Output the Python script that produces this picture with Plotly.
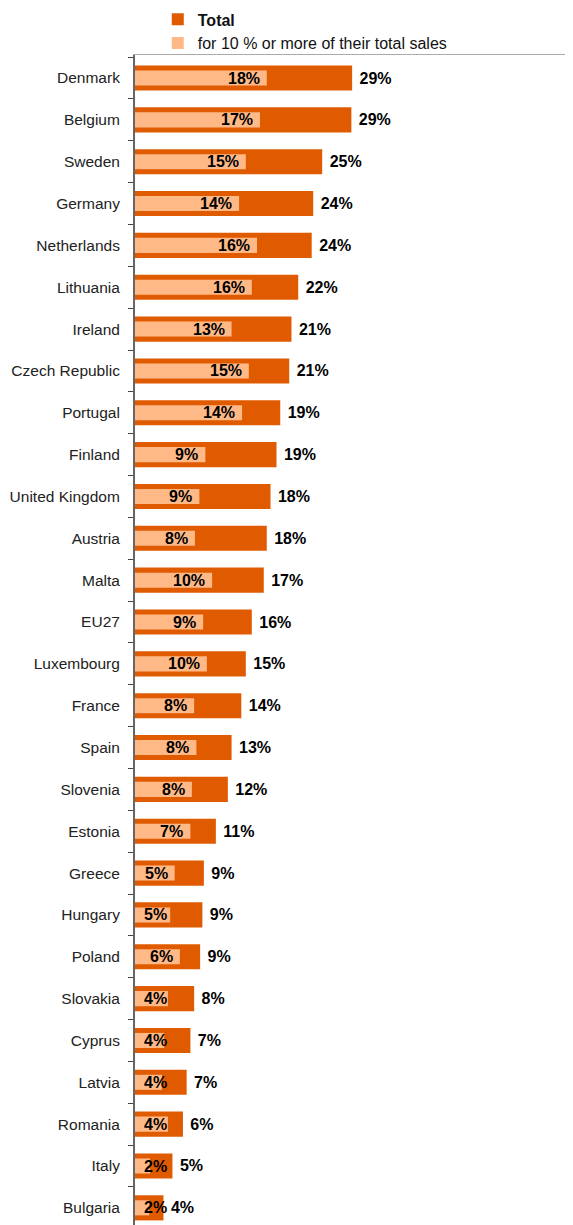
import plotly.graph_objects as go

categories = ["Denmark", "Belgium", "Sweden", "Germany", "Netherlands", "Lithuania", "Ireland",
              "Czech Republic", "Portugal", "Finland", "United Kingdom", "Austria", "Malta", "EU27",
              "Luxembourg", "France", "Spain", "Slovenia", "Estonia", "Greece", "Hungary", "Poland",
              "Slovakia", "Cyprus", "Latvia", "Romania", "Italy", "Bulgaria"]
total = [29.0, 28.9, 25.0, 23.8, 23.6, 21.8, 20.9, 20.6, 19.4, 18.9, 18.1, 17.6, 17.2, 15.6,
         14.8, 14.2, 12.9, 12.4, 10.8, 9.2, 9.0, 8.7, 7.9, 7.4, 6.9, 6.4, 5.0, 3.8]
ten_pct = [17.6, 16.7, 14.8, 13.9, 16.3, 15.6, 12.9, 15.2, 14.3, 9.4, 8.6, 8.0, 10.3, 9.1,
           9.6, 7.9, 8.2, 7.6, 7.4, 5.3, 4.7, 6.0, 4.4, 3.9, 3.6, 4.4, 2.0, 1.9]

DARK = "#E05A00"
LIGHT = "#FFB987"
FONT = "Liberation Sans, Arial, sans-serif"
FIT_MIN = 4.8  # below this share the label no longer fits inside the light bar

fig = go.Figure()
fig.add_trace(go.Bar(
    y=categories, x=total, orientation="h", name="<b>Total</b>",
    marker=dict(color=DARK, line=dict(width=0)), width=0.6,
    texttemplate=" %{x:.0f}%", textposition="outside", cliponaxis=False,
    textfont=dict(family=FONT, size=16, color="#000000", weight="bold"),
))
fig.add_trace(go.Bar(
    y=categories, x=ten_pct, orientation="h", name="for 10 % or more of their total sales",
    marker=dict(color=LIGHT, line=dict(width=0)), width=0.36,
    hoverinfo="x+y",
))
# labels of the light bars: inside end, or pushed to the start when too short
for cat, v in zip(categories, ten_pct):
    fits = v >= FIT_MIN
    fig.add_annotation(
        x=v if fits else 0, y=cat, xref="x", yref="y",
        text=f"<b>{v:.0f}%</b>", showarrow=False,
        xanchor="right" if fits else "left", yanchor="middle",
        xshift=-5 if fits else 7, yshift=0,
        font=dict(family=FONT, size=16, color="#000000"),
    )

# the page adds an 8px body margin, so the figure is 8px smaller on each shifted side
fig.update_layout(
    width=565, height=1217,
    margin=dict(l=127, r=0, t=47, b=0, autoexpand=False),
    barmode="overlay",
    plot_bgcolor="white", paper_bgcolor="white",
    font=dict(family=FONT, size=16, color="#222222"),
    showlegend=True,
    legend=dict(x=0.052, y=1.045, xanchor="left", yanchor="top",
                font=dict(family=FONT, size=16, color="#111111"),
                bgcolor="rgba(0,0,0,0)"),
)
fig.update_xaxes(range=[0, 58.5], side="top", showline=True, linecolor="#aaaaaa", linewidth=1,
                 showgrid=False, zeroline=False, showticklabels=False, ticks="")
fig.update_yaxes(range=[27.41, -0.55], showline=True, linecolor="#666666", linewidth=2,
                 ticks="outside", tickson="boundaries", ticklen=5, tickcolor="#444444",
                 tickwidth=1, showgrid=False, ticklabelstandoff=10, automargin=False,
                 tickfont=dict(family=FONT, size=15.5, color="#222222"))

fig.write_html("out.html")
